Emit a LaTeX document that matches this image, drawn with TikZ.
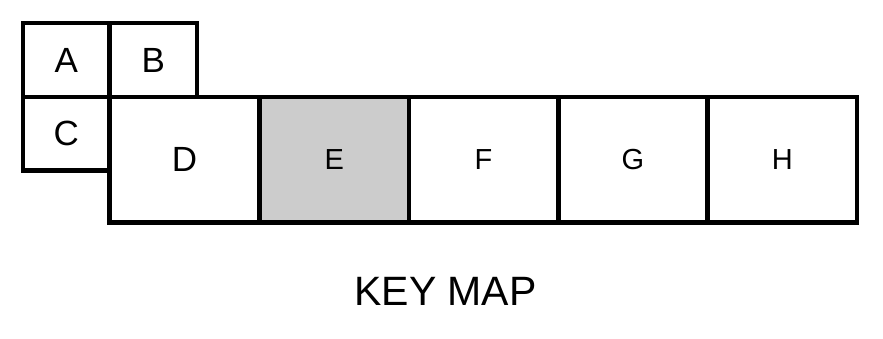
\documentclass[tikz,border=0pt]{standalone}
\usepackage{fontspec}
\setmainfont{Liberation Sans}
\usepackage{tikz}
\usetikzlibrary{positioning}

\begin{document}
\begin{tikzpicture}[x=1pt, y=1pt, node distance=0pt,
    cell/.style={rectangle, draw=black, line width=4.5pt, fill=white, inner sep=0pt, outer sep=0pt, font=\fontsize{35}{40}\selectfont},
    smallcell/.style={cell, minimum width=86.5pt},
    bigcell/.style={cell, minimum width=149.4pt, minimum height=125.5pt, font=\fontsize{29}{34}\selectfont}]

    \useasboundingbox (0,0) rectangle (883,338);

    \node [smallcell, minimum height=74pt, anchor=north west] (a) at (23,315) {A};
    \node [smallcell, minimum width=87.5pt, minimum height=74pt, right=of a] (b) {B};
    \node [smallcell, minimum height=73.5pt, below=of a] (c) {C};
    \node [bigcell, minimum width=150pt, anchor=north west, font=\fontsize{35}{40}\selectfont] (d) at (b.south west) {D};
    \node [bigcell, fill=black!20, right=of d] (e) {E};
    \node [bigcell, right=of e] (f) {F};
    \node [bigcell, right=of f] (g) {G};
    \node [bigcell, right=of g] (h) {H};

    \node [font=\fontsize{41}{46}\selectfont, inner sep=0pt] (title) at (445.5,46.3) {KEY MAP};
\end{tikzpicture}
\end{document}
